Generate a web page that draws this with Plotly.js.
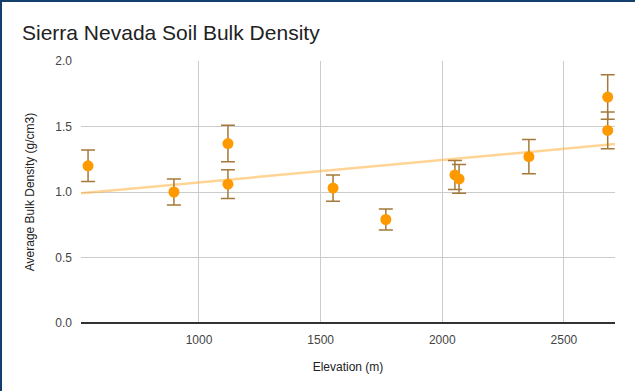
<!DOCTYPE html>
<html>
<head>
<meta charset="utf-8">
<script src="https://cdn.plot.ly/plotly-3.0.1.min.js"></script>
<style>
  html, body { margin: 0; padding: 0; background: #fff; }
  #wrap { position: relative; width: 635px; height: 391px; overflow: hidden; }
  #chart { position: absolute; left: 0; top: 0; width: 635px; height: 391px; }
  .bt { position: absolute; left: 0; top: 0; width: 635px; height: 2px; background: #123f6c; }
  .bl { position: absolute; left: 0; top: 0; width: 2px; height: 391px; background: #123f6c; }
</style>
</head>
<body>
<div id="wrap">
  <div id="chart"></div>
  <div class="bt"></div>
  <div class="bl"></div>
</div>
<script>
const elevation = [544, 897, 1119, 1119, 1551, 1768, 2052, 2069, 2356, 2680, 2680];
const bulkDensity = [1.20, 1.00, 1.37, 1.06, 1.03, 0.79, 1.13, 1.10, 1.27, 1.725, 1.47];
const densityError = [0.12, 0.10, 0.14, 0.11, 0.10, 0.08, 0.11, 0.11, 0.13, 0.17, 0.14];
const xTicks = [1000, 1500, 2000, 2500];
const yTicks = [0, 0.5, 1.0, 1.5, 2.0];
const xDomain = [515, 2710];

// linear least-squares trendline from the data
const n = elevation.length;
const mx = elevation.reduce((a, b) => a + b, 0) / n;
const my = bulkDensity.reduce((a, b) => a + b, 0) / n;
let sxy = 0, sxx = 0;
for (let i = 0; i < n; i++) {
  sxy += (elevation[i] - mx) * (bulkDensity[i] - my);
  sxx += (elevation[i] - mx) ** 2;
}
const slope = sxy / sxx;
const icpt = my - slope * mx;
const trendX = xDomain.slice();
const trendY = trendX.map(x => icpt + slope * x);

const traces = [
  {
    x: trendX, y: trendY, mode: 'lines', type: 'scatter',
    line: { color: 'rgba(255,176,60,0.55)', width: 2.5 },
    hoverinfo: 'skip', showlegend: false
  },
  {
    x: elevation, y: bulkDensity, mode: 'markers', type: 'scatter',
    marker: { color: '#ff9900', size: 11 },
    error_y: { type: 'data', array: densityError, visible: true, color: '#a5793a', thickness: 1.5, width: 7 },
    showlegend: false
  }
];

const layout = {
  width: 635, height: 391,
  margin: { l: 81, r: 20, t: 61, b: 68 },
  paper_bgcolor: '#fff', plot_bgcolor: '#fff',
  font: { family: 'Liberation Sans, Arial, sans-serif', color: '#444', size: 12 },
  title: {
    text: 'Sierra Nevada Soil Bulk Density',
    font: { family: 'Liberation Sans, Arial, sans-serif', size: 21, color: '#222' },
    x: 22 / 635, xref: 'container', xanchor: 'left',
    y: 1 - 33 / 391, yref: 'container', yanchor: 'middle'
  },
  xaxis: {
    range: xDomain, tickvals: xTicks, ticktext: xTicks.map(String),
    showgrid: true, gridcolor: '#cccccc', gridwidth: 1,
    zeroline: false, showline: false, ticks: '',
    ticklabelstandoff: 8,
    tickfont: { size: 12, color: '#444' },
    title: { text: 'Elevation (m)', font: { size: 12, color: '#222' }, standoff: 16 }
  },
  yaxis: {
    range: [0, 2.0], tickvals: yTicks, ticktext: yTicks.map(v => v.toFixed(1)),
    showgrid: true, gridcolor: '#cccccc', gridwidth: 1,
    zeroline: true, zerolinecolor: '#333333', zerolinewidth: 1.5,
    showline: false, ticks: '',
    ticklabelstandoff: 8,
    tickfont: { size: 12, color: '#444' },
    title: { text: 'Average Bulk Density (g/cm3)', font: { size: 12, color: '#222' }, standoff: 18 }
  }
};

Plotly.newPlot('chart', traces, layout, { displayModeBar: false, staticPlot: true });
</script>
</body>
</html>
